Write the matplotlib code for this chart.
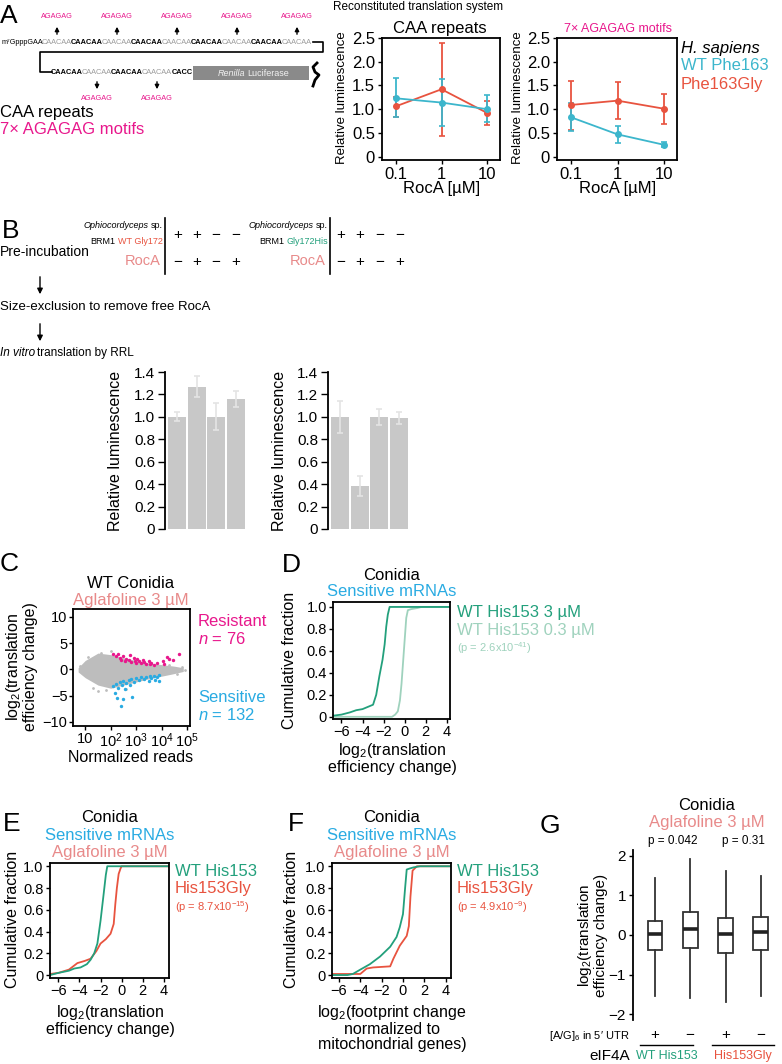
import numpy as np
import matplotlib
matplotlib.use('Agg')
import matplotlib.pyplot as plt
from matplotlib.patches import Rectangle

plt.rcParams['font.family'] = ['Liberation Sans', 'DejaVu Sans']
plt.rcParams['mathtext.fontset'] = 'custom'
plt.rcParams['mathtext.rm'] = 'Liberation Sans'
plt.rcParams['mathtext.it'] = 'Liberation Sans:italic'
plt.rcParams['axes.linewidth'] = 1.3
plt.rcParams['xtick.major.width'] = 1.0
plt.rcParams['ytick.major.width'] = 1.0
plt.rcParams['xtick.major.size'] = 3
plt.rcParams['ytick.major.size'] = 3

W, H = 782, 1064

CYAN = '#3cb6cc'
RED = '#e8533f'
GREEN = '#23a07c'
LGREEN = '#9fd2bd'
MAGENTA = '#e8178c'
PINK = '#e88a8a'
SKY = '#29abe2'
SEQGRAY = '#9a9a9a'

# --- A: reconstituted translation system ---
roca_um = [0.1, 1, 10]
caa_wt = [1.23, 1.14, 1.00]
caa_wt_lo = [0.83, 0.65, 0.73]
caa_wt_hi = [1.65, 1.63, 1.29]
caa_mut = [1.06, 1.42, 0.92]
caa_mut_lo = [0.83, 0.44, 0.67]
caa_mut_hi = [1.26, 2.39, 1.18]
ag_wt = [0.83, 0.47, 0.25]
ag_wt_lo = [0.54, 0.28, 0.21]
ag_wt_hi = [1.13, 0.65, 0.30]
ag_mut = [1.09, 1.18, 1.01]
ag_mut_lo = [0.57, 0.79, 0.68]
ag_mut_hi = [1.60, 1.57, 1.32]

# --- B: RRL translation after pre-incubation ---
wt_bars = [1.00, 1.27, 1.00, 1.16]
wt_err = [0.04, 0.09, 0.12, 0.07]
his_bars = [1.00, 0.38, 1.00, 0.99]
his_err = [0.14, 0.09, 0.07, 0.05]
pre_top = ['+', '+', '\u2212', '\u2212']
pre_roca = ['\u2212', '+', '\u2212', '+']

# --- C: MA plot (log10 reads, log2 TE change) ---
cloud_logx = [0.72, 1.0, 1.5, 2.0, 2.5, 3.0, 3.5, 4.0, 4.5, 4.85]
cloud_hi = [0.3, 1.7, 3.1, 2.8, 2.2, 1.7, 1.2, 0.9, 0.6, 0.3]
cloud_lo = [-0.5, -1.6, -3.0, -3.6, -3.0, -2.4, -1.8, -1.3, -0.8, -0.4]
other_logx = [1.3, 1.5, 1.6, 2.0, 4.6, 4.8, 1.8, 4.3, 0.8, 1.1, 2.6, 4.9]
other_y = [-3.6, -4.2, 3.2, 3.4, -0.8, 0.5, -4.0, 0.9, 0.6, 2.3, -3.7, -0.2]
res_logx = [2.1, 2.2, 2.3, 2.35, 2.4, 2.5, 2.55, 2.6, 2.7, 2.75, 2.8, 2.9, 2.95, 3.0, 3.05,
            3.1, 3.2, 3.25, 3.3, 3.4, 3.5, 3.55, 3.6, 3.7, 3.8, 4.05, 4.1, 4.2, 4.3, 4.45, 4.7]
res_y = [2.9, 2.6, 3.0, 2.2, 1.8, 2.5, 1.5, 2.0, 1.7, 2.8, 1.4, 2.1, 1.6, 1.3, 1.9,
         1.5, 1.2, 1.8, 1.4, 1.1, 1.5, 1.0, 1.3, 0.9, 1.2, 1.6, 1.0, 2.4, 1.9, 1.8, 2.9]
sen_logx = [2.1, 2.15, 2.2, 2.25, 2.3, 2.35, 2.4, 2.45, 2.5, 2.5, 2.55, 2.6, 2.7, 2.75, 2.8,
            2.85, 2.9, 3.0, 3.1, 3.2, 3.3, 3.4, 3.5, 3.55, 3.6, 3.7, 3.75, 3.8, 3.9, 3.9]
sen_y = [-3.2, -4.5, -2.8, -5.4, -3.5, -2.5, -7.0, -3.0, -2.3, -5.6, -3.8, -2.6, -2.0, -2.9, -1.8,
         -5.2, -2.4, -1.7, -2.1, -1.5, -1.9, -1.4, -2.2, -1.3, -1.7, -1.2, -2.0, -1.5, -1.1, -2.3]

# --- D: cumulative fractions, WT 3 uM vs 0.3 uM ---
d_hi_x = [-6.8, -6.0, -5.2, -4.6, -4.0, -3.5, -3.0, -2.7, -2.4, -2.1, -1.9, -1.75, -1.6, -1.43, -1.2, 4.3]
d_hi_y = [0.01, 0.02, 0.04, 0.06, 0.07, 0.09, 0.11, 0.2, 0.37, 0.52, 0.66, 0.82, 0.93, 1.0, 1.0, 1.0]
d_lo_x = [-6.8, -1.2, -0.9, -0.65, -0.45, -0.3, -0.15, 0.0, 0.15, 0.3, 0.6, 1.2, 1.6, 4.3]
d_lo_y = [0.0, 0.0, 0.02, 0.05, 0.15, 0.3, 0.5, 0.7, 0.9, 0.97, 0.98, 0.99, 1.0, 1.0]

# --- E: TE change, WT vs His153Gly ---
e_wt_x = [-6.8, -6.0, -5.0, -4.5, -3.9, -3.3, -2.95, -2.6, -2.3, -2.0, -1.7, -1.5, -1.36, 4.5]
e_wt_y = [0.0, 0.02, 0.04, 0.06, 0.07, 0.1, 0.14, 0.2, 0.29, 0.5, 0.75, 0.92, 1.0, 1.0]
e_mut_x = [-6.8, -6.0, -5.0, -4.2, -3.5, -2.95, -2.4, -2.0, -1.5, -1.05, -0.75, -0.6, -0.45, -0.28, -0.1, 0.0, 4.5]
e_mut_y = [0.01, 0.02, 0.05, 0.11, 0.13, 0.15, 0.22, 0.29, 0.33, 0.38, 0.47, 0.65, 0.8, 0.93, 0.98, 1.0, 1.0]

# --- F: footprint change normalised to mito genes ---
f_wt_x = [-6.6, -5.2, -4.7, -4.0, -3.1, -2.15, -1.2, -0.6, -0.3, 0.0, 0.2, 0.35, 0.65, 1.0, 1.6, 4.5]
f_wt_y = [0.0, 0.0, 0.01, 0.05, 0.1, 0.17, 0.26, 0.35, 0.44, 0.56, 0.8, 0.97, 0.98, 0.99, 1.0, 1.0]
f_mut_x = [-6.6, -4.0, -3.4, -2.8, -1.2, -0.9, -0.3, 0.35, 0.55, 0.7, 0.9, 1.3, 4.5]
f_mut_y = [0.01, 0.01, 0.06, 0.07, 0.08, 0.15, 0.27, 0.36, 0.45, 0.72, 0.96, 1.0, 1.0]

# --- G: box plots (q1, median, q3, whisker low, whisker high) ---
g_q1 = [-0.38, -0.32, -0.45, -0.38]
g_med = [0.02, 0.15, 0.02, 0.08]
g_q3 = [0.36, 0.57, 0.43, 0.46]
g_wlo = [-1.54, -1.59, -1.70, -1.54]
g_whi = [1.43, 1.92, 1.63, 1.49]
g_motif = ['+', '\u2212', '+', '\u2212']
g_pvals = ['p = 0.042', 'p = 0.31']


fig = plt.figure(figsize=(7.82, 10.64), dpi=100)

canvas = fig.add_axes([0, 0, 1, 1])
canvas.set_xlim(0, W)
canvas.set_ylim(H, 0)
canvas.axis('off')


def T(x, y, s, size=11.5, color='k', ha='left', va='center', **kw):
    return canvas.text(x, y, s, fontsize=size, color=color, ha=ha, va=va, **kw)


def add_ax(l, t, r, b):
    return fig.add_axes([l / W, 1 - b / H, (r - l) / W, (b - t) / H])


# panel letters
for lx, ly, s in [(0, 16, 'A'), (2, 231, 'B'), (0, 564, 'C'), (282, 565, 'D'),
                  (3, 824, 'E'), (288, 824, 'F'), (540, 826, 'G')]:
    T(lx, ly, s, size=19)

# ---------- A schematic ----------
T(43, 42, 'm\u2077GpppGAA', size=5.2, ha='right')
for i in range(9):
    cx = 57 + i * 30
    T(cx, 42, 'CAACAA', size=5.3, color=SEQGRAY if i % 2 == 0 else 'k', ha='center',
      fontweight='normal' if i % 2 == 0 else 'bold')
    if i % 2 == 0:
        canvas.annotate('', xy=(cx, 24), xytext=(cx, 37),
                        arrowprops=dict(arrowstyle='-|>', lw=1, color='k', mutation_scale=6))
        T(cx, 16, 'AGAGAG', size=5.3, color=MAGENTA, ha='center')
for i in range(4):
    cx = 67 + i * 30
    T(cx, 73, 'CAACAA', size=5.3, color=SEQGRAY if i % 2 == 1 else 'k', ha='center',
      fontweight='normal' if i % 2 == 1 else 'bold')
    if i % 2 == 1:
        canvas.annotate('', xy=(cx, 92), xytext=(cx, 79),
                        arrowprops=dict(arrowstyle='-|>', lw=1, color='k', mutation_scale=6))
        T(cx, 98, 'AGAGAG', size=5.3, color=MAGENTA, ha='center')
T(182, 73, 'CACC', size=5.3, ha='center', fontweight='bold')
canvas.plot([313, 323, 323, 40, 40, 52], [42, 42, 52, 52, 72, 72], color='k', lw=1.2)
canvas.add_patch(Rectangle((193, 66), 116, 14, facecolor='#8a8a8a', edgecolor='none'))
T(245, 73, 'Renilla', size=6.5, color='#f2f2f2', ha='right', style='italic')
T(247, 73, 'Luciferase', size=6.5, color='#f2f2f2', ha='left')
canvas.plot([317, 313, 315, 319, 315, 313], [63, 67, 72, 75, 80, 86], color='k', lw=2)
T(0, 112, 'CAA repeats', size=12)
T(0, 129, '7\u00d7 AGAGAG motifs', size=12, color=MAGENTA)

# ---------- A plots ----------
T(333, 7, 'Reconstituted translation system', size=8.5)
T(440, 29, 'CAA repeats', size=12, ha='center')
T(618, 29, '7\u00d7 AGAGAG motifs', size=9, color=MAGENTA, ha='center')
T(681, 48, 'H. sapiens', size=12, style='italic')
T(681, 66, 'WT Phe163', size=12, color=CYAN)
T(681, 85, 'Phe163Gly', size=12, color=RED)

a_sets = [
    (add_ax(382, 38, 500, 160), caa_wt, caa_wt_lo, caa_wt_hi, caa_mut, caa_mut_lo, caa_mut_hi),
    (add_ax(557, 38, 677, 160), ag_wt, ag_wt_lo, ag_wt_hi, ag_mut, ag_mut_lo, ag_mut_hi),
]
for ax, wt, wlo, whi, mu, mlo, mhi in a_sets:
    ax.errorbar(roca_um, mu, yerr=[np.subtract(mu, mlo), np.subtract(mhi, mu)], color=RED,
                marker='o', ms=4, lw=1.3, capsize=2.5, capthick=1.2)
    ax.errorbar(roca_um, wt, yerr=[np.subtract(wt, wlo), np.subtract(whi, wt)], color=CYAN,
                marker='o', ms=4, lw=1.3, capsize=2.5, capthick=1.2)
    ax.set_xscale('log')
    ax.set_xlim(0.05, 19)
    ax.set_ylim(-0.07, 2.5)
    ax.set_xticks(roca_um)
    ax.set_xticklabels(['0.1', '1', '10'])
    ax.minorticks_off()
    ax.set_yticks([0, 0.5, 1, 1.5, 2, 2.5])
    ax.set_yticklabels(['0', '0.5', '1.0', '1.5', '2.0', '2.5'])
    ax.tick_params(labelsize=12, pad=2)
for cx, lx in [(442, 342), (618, 518)]:
    T(cx, 189, 'RocA [\u00b5M]', size=12, ha='center')
    T(lx, 98, 'Relative luminescence', size=9.5, ha='center', rotation=90)

# ---------- B ----------
T(0, 252, 'Pre-incubation', size=10)
canvas.annotate('', xy=(40, 297), xytext=(40, 274),
                arrowprops=dict(arrowstyle='-|>', lw=1, color='k', mutation_scale=8))
T(0, 307, 'Size-exclusion to remove free RocA', size=9.5)
canvas.annotate('', xy=(40, 344), xytext=(40, 321),
                arrowprops=dict(arrowstyle='-|>', lw=1, color='k', mutation_scale=8))
T(0, 353, 'In vitro', size=8.5, style='italic')
T(37, 353, 'translation by RRL', size=8.5)

for vx, mut_txt, mut_col, brm_x, xs in [
        (165, 'WT Gly172', RED, 115, [178, 197, 216, 236]),
        (330, 'Gly172His', GREEN, 284, [341, 360, 380, 400])]:
    T(vx - 2, 225, 'sp.', size=6.5, ha='right')
    T(vx - 16, 225, 'Ophiocordyceps', size=6.5, ha='right', style='italic')
    T(brm_x, 242, 'BRM1', size=6.5, ha='right')
    T(vx - 2, 242, mut_txt, size=6.5, ha='right', color=mut_col)
    T(vx - 4, 261, 'RocA', size=10.5, ha='right', color=PINK)
    canvas.plot([vx, vx], [218, 274], color='k', lw=1.2)
    for x, a, b in zip(xs, pre_top, pre_roca):
        T(x, 235, a, size=11, ha='center')
        T(x, 262, b, size=11, ha='center')

for (l, r), vals, errs, lx in [((165, 247), wt_bars, wt_err, 115),
                               ((328, 410), his_bars, his_err, 280)]:
    ax = add_ax(l, 372, r, 529)
    pos = np.arange(len(vals))
    ax.bar(pos, vals, width=0.92, color='#c8c8c8')
    ax.errorbar(pos, vals, yerr=errs, fmt='none', ecolor='#e4e4e4', elinewidth=1.2,
                capsize=2.5, capthick=1.2)
    ax.set_xlim(-0.62, 3.56)
    ax.set_ylim(0, 1.4)
    ax.set_yticks([0, 0.2, 0.4, 0.6, 0.8, 1.0, 1.2, 1.4])
    ax.set_yticklabels(['0', '0.2', '0.4', '0.6', '0.8', '1.0', '1.2', '1.4'])
    ax.set_xticks([])
    for s in ['top', 'right', 'bottom']:
        ax.spines[s].set_visible(False)
    ax.tick_params(labelsize=11, pad=2, length=5)
    T(lx, 451, 'Relative luminescence', size=11.5, ha='center', rotation=90)

# ---------- C ----------
T(131, 583, 'WT Conidia', size=12, ha='center')
T(131, 600, 'Aglafoline 3 \u00b5M', size=12, ha='center', color=PINK)
axc = add_ax(73, 609, 190, 726)
axc.fill_between(10 ** np.array(cloud_logx), cloud_lo, cloud_hi, color='#bdbdbd', lw=0)
axc.scatter(10 ** np.array(other_logx), other_y, s=4, color='#bdbdbd', lw=0)
axc.scatter(10 ** np.array(res_logx), res_y, s=6, color=MAGENTA, lw=0)
axc.scatter(10 ** np.array(sen_logx), sen_y, s=6, color=SKY, lw=0)
axc.set_xscale('log')
axc.set_xlim(3.3, 1.3e5)
axc.set_ylim(-10.8, 11.5)
axc.set_xticks([10, 1e2, 1e3, 1e4, 1e5])
axc.set_xticklabels(['10', '10$^2$', '10$^3$', '10$^4$', '10$^5$'])
axc.minorticks_off()
axc.set_yticks([-10, -5, 0, 5, 10])
axc.tick_params(labelsize=10.5, pad=1)
T(131, 757, 'Normalized reads', size=11.5, ha='center')
T(21, 667, 'log$_2$(translation\nefficiency change)', size=11.5, ha='center',
  rotation=90, linespacing=1.0)
T(198, 622, 'Resistant', size=12, color=MAGENTA)
T(198, 639, '$n$ = 76', size=12, color=MAGENTA)
T(198, 698, 'Sensitive', size=12, color=SKY)
T(198, 715, '$n$ = 132', size=12, color=SKY)


def cdf_axes(ax, xlim, ylim):
    ax.set_xlim(*xlim)
    ax.set_ylim(*ylim)
    ax.set_xticks([-6, -4, -2, 0, 2, 4])
    ax.set_yticks([0, 0.2, 0.4, 0.6, 0.8, 1.0])
    ax.set_yticklabels(['0', '0.2', '0.4', '0.6', '0.8', '1.0'])
    ax.tick_params(labelsize=10.5, pad=1.5)


# ---------- D ----------
T(392, 575, 'Conidia', size=12, ha='center')
T(392, 592, 'Sensitive mRNAs', size=12, ha='center', color=SKY)
axd = add_ax(333, 602, 450, 719)
axd.plot(d_lo_x, d_lo_y, color=LGREEN, lw=1.3)
axd.plot(d_hi_x, d_hi_y, color=GREEN, lw=1.3)
cdf_axes(axd, (-6.8, 4.3), (-0.02, 1.045))
T(392, 758, 'log$_2$(translation\nefficiency change)', size=11.5, ha='center', linespacing=1.0)
T(290, 660, 'Cumulative fraction', size=11.5, ha='center', rotation=90)
T(457, 613, 'WT His153 3 \u00b5M', size=12, color=GREEN)
T(457, 630, 'WT His153 0.3 \u00b5M', size=12, color=LGREEN)
T(457, 648, '(p = 2.6x10$^{\\mathrm{-41}}$)', size=8, color=LGREEN)

# ---------- E / F ----------
for (l, r), cx, lx, wx, wy, mx, my, xl, ptxt, xlab, xlab_y in [
        ((50, 169), 110, 13, e_wt_x, e_wt_y, e_mut_x, e_mut_y, (-6.8, 4.5),
         '(p = 8.7x10$^{\\mathrm{-15}}$)', 'log$_2$(translation\nefficiency change)', 1020),
        ((332, 451), 392, 292, f_wt_x, f_wt_y, f_mut_x, f_mut_y, (-6.65, 4.5),
         '(p = 4.9x10$^{\\mathrm{-9}}$)',
         'log$_2$(footprint change\nnormalized to\nmitochondrial genes)', 1028)]:
    T(cx, 818, 'Conidia', size=12, ha='center')
    T(cx, 835, 'Sensitive mRNAs', size=12, ha='center', color=SKY)
    T(cx, 852, 'Aglafoline 3 \u00b5M', size=12, ha='center', color=PINK)
    ax = add_ax(l, 863, r, 978)
    ax.plot(mx, my, color=RED, lw=1.3)
    ax.plot(wx, wy, color=GREEN, lw=1.3)
    cdf_axes(ax, xl, (-0.027, 1.03))
    T(lx, 919, 'Cumulative fraction', size=11.5, ha='center', rotation=90)
    T(cx, xlab_y, xlab, size=11.5, ha='center', linespacing=1.0)
    T(r + 6, 872, 'WT His153', size=12, color=GREEN)
    T(r + 6, 889, 'His153Gly', size=12, color=RED)
    T(r + 6, 907, ptxt, size=8, color=RED)

# ---------- G ----------
T(707, 805, 'Conidia', size=12, ha='center')
T(707, 823, 'Aglafoline 3 \u00b5M', size=12, ha='center', color=PINK)
axg = add_ax(633, 850, 775, 1020)
stats = [dict(q1=a, med=b, q3=c, whislo=d, whishi=e)
         for a, b, c, d, e in zip(g_q1, g_med, g_q3, g_wlo, g_whi)]
axg.bxp(stats, positions=[1, 2, 3, 4], widths=0.42, showfliers=False, showcaps=False,
        patch_artist=True,
        boxprops=dict(facecolor='white', edgecolor='#333333', lw=1.3),
        medianprops=dict(color='#222222', lw=2.6),
        whiskerprops=dict(color='#333333', lw=1.3))
axg.set_xlim(0.377, 4.4)
axg.set_ylim(-2.15, 2.15)
axg.set_xticks([])
axg.set_yticks([-2, -1, 0, 1, 2])
for s in ['top', 'right', 'bottom']:
    axg.spines[s].set_visible(False)
axg.tick_params(labelsize=11, pad=2)
T(592, 935, 'log$_2$(translation\nefficiency change)', size=11, ha='center',
  rotation=90, linespacing=1.0)
for (x1, x2), p in zip([(655, 690), (726, 761)], g_pvals):
    canvas.plot([x1, x1, x2, x2], [859, 852, 852, 859], color='#333333', lw=1)
    T((x1 + x2) / 2, 841, p, size=8.5, ha='center')
for x, m in zip([655, 690, 726, 761], g_motif):
    T(x, 1035, m, size=11, ha='center')
T(630, 1036, '[A/G]$_6$ in 5\u2032 UTR', size=8, ha='right')
T(630, 1056, 'eIF4A', size=11, ha='right')
canvas.plot([640, 693], [1045, 1045], color='k', lw=1)
canvas.plot([712, 774], [1045, 1045], color='k', lw=1)
T(667, 1056, 'WT His153', size=9, ha='center', color=GREEN)
T(743, 1056, 'His153Gly', size=9, ha='center', color=RED)

fig.savefig('out.png', dpi=100)
